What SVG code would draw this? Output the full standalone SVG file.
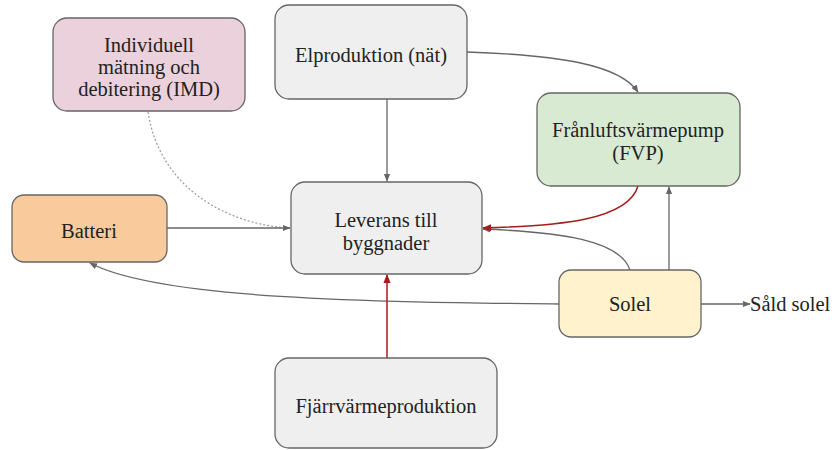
<svg xmlns="http://www.w3.org/2000/svg" width="832" height="450" viewBox="0 0 832 450">
<style>
.box{stroke:#666;stroke-width:1.3}
text{font-family:"Liberation Serif","Times New Roman",serif;font-size:20.5px;fill:#222}
.t{text-anchor:middle}
.s{text-anchor:start}
.c{fill:none;stroke:#666;stroke-width:1.3}
.r{fill:none;stroke:#a61c1c;stroke-width:1.5}
.d{fill:none;stroke:#999;stroke-width:1.2;stroke-dasharray:2 2}
</style>
<defs>
<marker id="ag" viewBox="0 0 10 10" refX="9" refY="5" markerWidth="6" markerHeight="6" orient="auto"><path d="M0,1 L10,5 L0,9 z" fill="#666"/></marker>
<marker id="ar" viewBox="0 0 10 10" refX="9" refY="5" markerWidth="6" markerHeight="6" orient="auto"><path d="M0,1 L10,5 L0,9 z" fill="#a61c1c"/></marker>
</defs>
<rect width="832" height="450" fill="#fff"/>
<g id="connectors">
<path class="c" d="M387,99 L387,181" marker-end="url(#ag)"/>
<path class="c" d="M467,52 C560,55 620,65 638,92" marker-end="url(#ag)"/>
<path class="d" d="M148,112 C160,190 230,225 290,228"/>
<path class="c" d="M167,228 L290,228" marker-end="url(#ag)"/>
<path class="c" d="M630,270 C620,240 560,232 483,229" marker-end="url(#ag)"/>
<path class="r" d="M638,186 C628,220 560,226 483,228" marker-end="url(#ar)"/>
<path class="c" d="M669,270 L669,187" marker-end="url(#ag)"/>
<path class="c" d="M559,304 C380,302 160,300 90,263" marker-end="url(#ag)"/>
<path class="c" d="M701,304 L750,304" marker-end="url(#ag)"/>
<path class="r" d="M387,358 L387,275" marker-end="url(#ar)"/>
</g>
<g id="imd"><rect class="box" x="53" y="18" width="192" height="93" rx="14" fill="#ead1dc"/>
<text class="t" x="149" y="52">Individuell</text><text class="t" x="149" y="74">mätning och</text><text class="t" x="149" y="96">debitering (IMD)</text></g>
<g id="elprod"><rect class="box" x="275" y="5" width="192" height="94" rx="14" fill="#efefef"/>
<text class="t" x="371" y="62">Elproduktion (nät)</text></g>
<g id="fvp"><rect class="box" x="537" y="93" width="203" height="93" rx="14" fill="#d9ead3"/>
<text class="t" x="638" y="137">Frånluftsvärmepump</text><text class="t" x="638" y="160">(FVP)</text></g>
<g id="batteri"><rect class="box" x="12" y="195" width="155" height="67" rx="12" fill="#f9cb9c"/>
<text class="t" x="89" y="238">Batteri</text></g>
<g id="leverans"><rect class="box" x="291" y="182" width="191" height="92" rx="14" fill="#efefef"/>
<text class="t" x="386" y="227">Leverans till</text><text class="t" x="386" y="250">byggnader</text></g>
<g id="solel"><rect class="box" x="559" y="270" width="142" height="67" rx="12" fill="#fff2cc"/>
<text class="t" x="630" y="311">Solel</text></g>
<g id="sald"><text class="s" x="750" y="311">Såld solel</text></g>
<g id="fjarr"><rect class="box" x="275" y="358" width="222" height="90" rx="14" fill="#efefef"/>
<text class="t" x="386" y="413">Fjärrvärmeproduktion</text></g>
</svg>
